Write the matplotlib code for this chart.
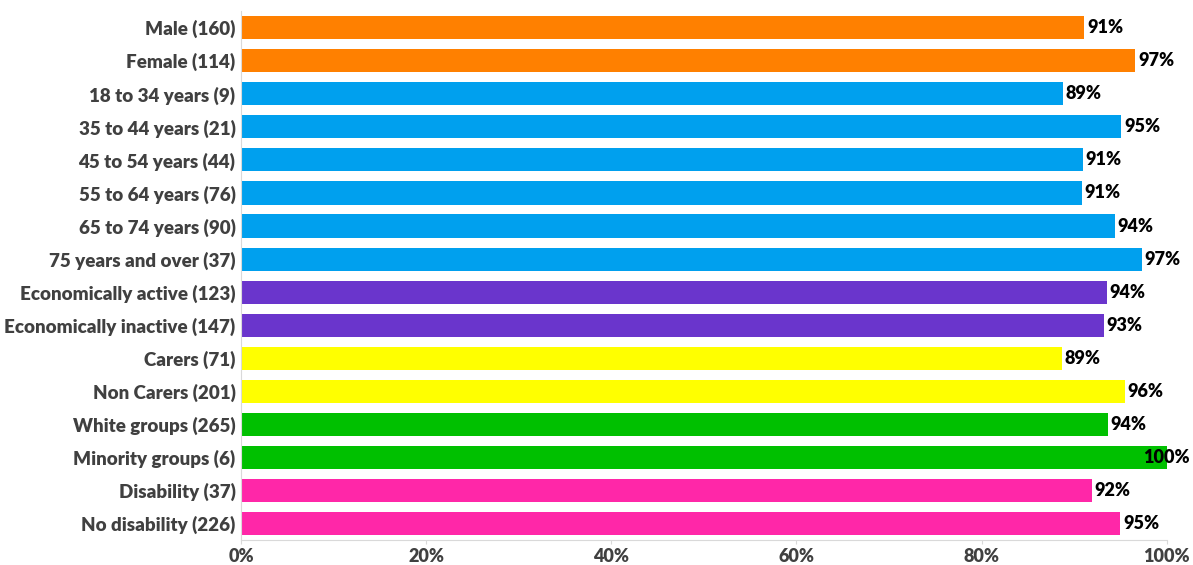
import matplotlib.pyplot as plt
import numpy as np

categories = ['Male (160)', 'Female (114)', '18 to 34 years (9)', '35 to 44 years (21)',
              '45 to 54 years (44)', '55 to 64 years (76)', '65 to 74 years (90)',
              '75 years and over (37)', 'Economically active (123)',
              'Economically inactive (147)', 'Carers (71)', 'Non Carers (201)',
              'White groups (265)', 'Minority groups (6)', 'Disability (37)',
              'No disability (226)']
values = [91.1, 96.6, 88.8, 95.1, 90.9, 90.8, 94.4, 97.3, 93.5, 93.2, 88.7, 95.5,
          93.6, 100, 91.9, 95.0]
groups = ['sex', 'sex', 'age', 'age', 'age', 'age', 'age', 'age', 'econ', 'econ',
          'carer', 'carer', 'eth', 'eth', 'dis', 'dis']
group_colors = {'sex': '#FF8000', 'age': '#00A0EE', 'econ': '#6A35CC',
                'carer': '#FFFF00', 'eth': '#00C000', 'dis': '#FF27A8'}

plt.rcParams['font.family'] = ['Lato', 'DejaVu Sans']

fig = plt.figure(figsize=(11.93, 5.65), dpi=100)
ax = fig.add_axes([0.202, 0.0442, 0.776, 0.936])

y = np.arange(len(categories))
cols = [group_colors[g] for g in groups]
ax.barh(y, values, height=0.7, color=cols)

for yi, v in zip(y, values):
    txt = f"{v:.0f}%"
    if v >= 100:
        ax.text(v, yi, txt, ha='center', va='center', fontsize=13,
                fontweight='heavy', color='black')
    else:
        ax.text(v + 0.3, yi, txt, ha='left', va='center', fontsize=13,
                fontweight='heavy', color='black')

ax.set_ylim(len(categories) - 0.5, -0.5)
ax.set_xlim(0, 100)
ax.set_yticks(y)
ax.set_yticklabels(categories, fontsize=13.5, fontweight='heavy', color='#404040')
ax.set_xticks(np.arange(0, 101, 20))
ax.set_xticklabels([f"{t}%" for t in range(0, 101, 20)], fontsize=13,
                   fontweight='heavy', color='#404040')
ax.tick_params(axis='y', length=0, pad=4)
ax.tick_params(axis='x', length=3, color='#D9D9D9', pad=3)

for s in ['top', 'right']:
    ax.spines[s].set_visible(False)
ax.spines['left'].set_color('#D9D9D9')
ax.spines['bottom'].set_color('#D9D9D9')

fig.savefig('out.png', dpi=100)
